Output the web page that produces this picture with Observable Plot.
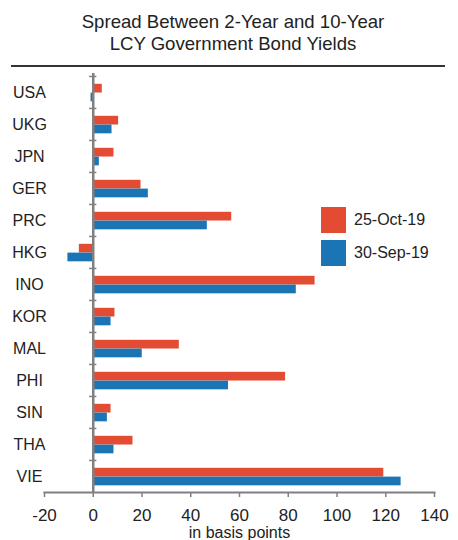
<!DOCTYPE html>
<html>
<head>
<meta charset="utf-8">
<script src="https://cdn.jsdelivr.net/npm/d3@7"></script>
<script src="https://cdn.jsdelivr.net/npm/@observablehq/plot@0.6"></script>
<style>
  html, body { margin: 0; padding: 0; background: #fff; }
  body { width: 458px; height: 540px; position: relative; overflow: hidden; font-family: "Liberation Sans", Arial, sans-serif; color: #222; }
  #title { position: absolute; left: 0; top: 0; width: 466px; text-align: center; font-size: 18.6px; line-height: 22px; padding-top: 11px; }
  #rule { position: absolute; left: 11px; top: 65px; width: 434px; height: 2px; background: #333; }
  #chart { position: absolute; left: 0; top: 70px; }
  .leg { position: absolute; left: 321px; font-size: 16px; }
  .leg span.sw { position: absolute; left: 0; top: 0; width: 25px; height: 26px; }
  .leg span.lb { position: absolute; left: 33px; top: 4px; white-space: nowrap; }
</style>
</head>
<body>
<div id="title">Spread Between 2-Year and 10-Year<br>LCY Government Bond Yields</div>
<div id="rule"></div>
<div id="chart"></div>
<div id="legend"></div>
<script>
const countries = ["USA","UKG","JPN","GER","PRC","HKG","INO","KOR","MAL","PHI","SIN","THA","VIE"];
const oct25 = [3.7, 10.4, 8.5, 19.6, 56.8, -5.7, 91.0, 8.9, 35.3, 78.9, 7.3, 16.3, 119.2];
const sep30 = [-0.9, 7.7, 2.5, 22.6, 46.8, -10.4, 83.3, 7.3, 20.1, 55.5, 5.8, 8.5, 126.3];
const seriesNames = ["25-Oct-19", "30-Sep-19"];
const seriesColors = ["#e44b33", "#1b75b4"];
const xTicks = [-20, 0, 20, 40, 60, 80, 100, 120, 140];

const octData = countries.map((c, i) => ({country: c, value: oct25[i]}));
const sepData = countries.map((c, i) => ({country: c, value: sep30[i]}));

const grey = "#808080";
const bw = 417 / 13;

const chart = Plot.plot({
  width: 458,
  height: 470,
  marginTop: 5,
  marginBottom: 48,
  marginLeft: 44,
  marginRight: 24,
  style: {fontFamily: "'Liberation Sans', Arial, sans-serif", color: "#222", background: "transparent", overflow: "visible"},
  x: {domain: [-20, 140], ticks: xTicks},
  y: {domain: countries, padding: 0},
  marks: [
    Plot.barX(octData, {y: "country", x1: 0, x2: "value", fill: seriesColors[0], insetTop: 7.8, insetBottom: bw - 16.6}),
    Plot.barX(sepData, {y: "country", x1: 0, x2: "value", fill: seriesColors[1], insetTop: 16.6, insetBottom: bw - 25.4}),
    Plot.ruleX([0], {stroke: grey, strokeWidth: 2.5, insetTop: -2}),
    Plot.ruleY(countries, {y: d => d, x1: -1.5, x2: 1.5, dy: -bw / 2, stroke: grey, strokeWidth: 1.5}),
    Plot.frame({anchor: "bottom", stroke: grey, strokeWidth: 2}),
    Plot.axisX({ticks: xTicks, tickSize: 5, tickPadding: 11, stroke: grey, strokeWidth: 1.5, fontSize: 17, label: null, fill: "#222", tickFormat: d => String(d)}),
    Plot.axisY({tickSize: 0, tickPadding: 15, textAnchor: "middle", fontSize: 16, label: null, fill: "#222"}),
    Plot.text(["in basis points"], {frameAnchor: "bottom", lineAnchor: "top", dy: 34, fontSize: 16, fill: "#222"})
  ]
});
document.getElementById("chart").appendChild(chart);

const legend = document.getElementById("legend");
seriesNames.forEach((name, i) => {
  const d = document.createElement("div");
  d.className = "leg";
  d.style.top = (207 + i * 32.5) + "px";
  d.innerHTML = `<span class="sw" style="background:${seriesColors[i]}"></span><span class="lb">${name}</span>`;
  legend.appendChild(d);
});
</script>
</body>
</html>
